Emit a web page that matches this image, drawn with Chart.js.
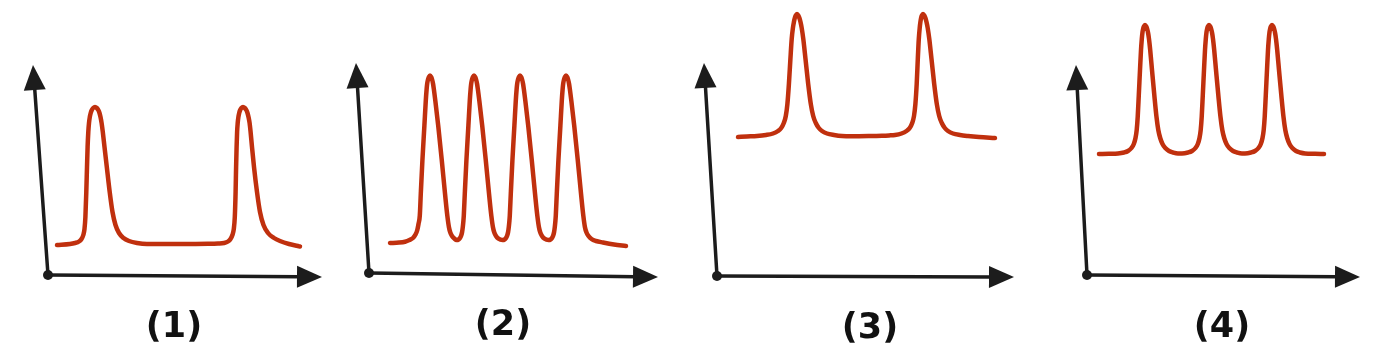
<!DOCTYPE html>
<html>
<head>
<meta charset="utf-8">
<script src="https://cdn.jsdelivr.net/npm/chart.js@4.4.1/dist/chart.umd.min.js"></script>
<style>
  html, body { margin: 0; padding: 0; background: #fff; }
  #wrap { position: relative; width: 1385px; height: 360px; overflow: hidden; }
  .panel { position: absolute; top: 0; height: 360px; }
</style>
</head>
<body>
<div id="wrap">
  <div class="panel" style="left:0px;width:340px"><canvas id="c1"></canvas></div>
  <div class="panel" style="left:340px;width:340px"><canvas id="c2"></canvas></div>
  <div class="panel" style="left:680px;width:360px"><canvas id="c3"></canvas></div>
  <div class="panel" style="left:1040px;width:345px"><canvas id="c4"></canvas></div>
</div>
<script>
const panelLabels = ['(1)', '(2)', '(3)', '(4)'];

// (1) two separated peaks, low baseline
const curve1X = [9, 22, 27, 31, 33.5, 35.3, 36.5, 37.4, 38.3, 39, 39.6, 40.3, 41, 41.8, 42.7, 43.8, 45.2, 47,
  48.8, 50.3, 51.5, 52.5, 53.6, 54.8, 56.5, 58.8, 61.7, 64.5, 67.5, 71, 75.5, 81, 89, 99,
  132, 160, 170, 176, 180, 182.5, 184.4, 185.8, 186.8, 187.6, 188.1, 188.6, 189.1, 189.7, 190.4, 191.2, 192.2, 193.4, 195,
  196.8, 198.3, 199.5, 200.5, 201.6, 202.6, 204, 206, 209, 212, 215.5, 220, 226, 232, 241, 250, 252];
const curve1Y = [30, 31, 32, 33.5, 36, 40, 46, 58, 83, 108, 128, 143, 152, 158, 162, 165, 167, 168,
  167, 165, 162, 158, 152, 143, 128, 108, 83, 63, 50, 42, 37, 34, 32, 31,
  31, 31.2, 31.5, 32, 33.5, 36, 40, 46, 58, 83, 108, 128, 143, 152, 158, 162, 165, 167, 168,
  167, 165, 162, 158, 152, 143, 128, 108, 83, 63, 50, 42, 37, 34, 31, 29, 28.5];

// (2) four close peaks, low baseline
const curve2X = [21, 30, 36, 40.5, 44, 46.5, 48.3, 49.5,
  50.8, 51.8, 53.4, 55.4, 56.8, 57.6, 58.2, 59, 59.9, 61, 62.2, 63.1, 64, 64.9, 66.3, 69.2, 72.8, 76, 78.3, 80,
  81.3, 83, 85.5, 87.5, 89.5, 91, 92.2, 93.1, 93.8, 94.4,
  94.8, 95.8, 97.4, 99.4, 100.8, 101.6, 102.2, 103, 103.9, 105, 106.2, 107.1, 108, 108.9, 110.3, 113.2, 116.8, 120, 122.3, 124,
  125.3, 127, 129.5, 133.5, 135.5, 137, 138.2, 139.1, 139.8, 140.4,
  140.8, 141.8, 143.4, 145.4, 146.8, 147.6, 148.2, 149, 149.9, 151, 152.2, 153.1, 154, 154.9, 156.3, 159.2, 162.8, 166, 168.3, 170,
  171.3, 173, 175.5, 179.5, 181.5, 183, 184.2, 185.1, 185.8, 186.4,
  186.8, 187.8, 189.4, 191.4, 192.8, 193.6, 194.2, 195, 195.9, 197, 198.2, 199.1, 200, 200.9, 202.3, 205.2, 208.8, 212, 214.3, 216,
  217.5, 219.5, 222.5, 227, 234, 245, 257];
const curve2Y = [30, 30.4, 31.3, 33, 35, 38.5, 43, 49,
  57.5, 79.5, 112.5, 147.5, 172.5, 183.5, 189.5, 193.5, 196, 197.5, 196, 193.5, 189.5, 183.5, 172.5, 147.5, 112.5, 79.5, 57.5, 45.5,
  40.5, 37, 34.3, 33, 33.5, 35, 37.5, 41, 46, 52,
  57.5, 79.5, 112.5, 147.5, 172.5, 183.5, 189.5, 193.5, 196, 197.5, 196, 193.5, 189.5, 183.5, 172.5, 147.5, 112.5, 79.5, 57.5, 45.5,
  40.5, 37, 34.3, 33, 33.5, 35, 37.5, 41, 46, 52,
  57.5, 79.5, 112.5, 147.5, 172.5, 183.5, 189.5, 193.5, 196, 197.5, 196, 193.5, 189.5, 183.5, 172.5, 147.5, 112.5, 79.5, 57.5, 45.5,
  40.5, 37, 34.3, 33, 33.5, 35, 37.5, 41, 46, 52,
  57.5, 79.5, 112.5, 147.5, 172.5, 183.5, 189.5, 193.5, 196, 197.5, 196, 193.5, 189.5, 183.5, 172.5, 147.5, 112.5, 79.5, 57.5, 45.5,
  40.5, 37, 34, 32, 30.5, 28.5, 27];

// (3) two separated peaks, high baseline
const curve3X = [21, 30, 40, 49, 56, 61, 64.2, 66.8, 68.8, 70.4, 71.9, 73.4, 74.7, 75.9, 76.9, 77.8, 78.7, 80,
  81.4, 82.4, 83.5, 84.7, 86.3, 88.5, 91.2, 93.8, 96.2, 98.8, 101.8, 105, 110, 117, 125, 135,
  152, 165, 172, 178, 184.5, 189.5, 192.7, 195.2, 197, 198.4, 199.7, 200.8, 201.8, 202.7, 203.4, 204.1, 204.9, 206,
  207.4, 208.4, 209.5, 210.7, 212.3, 214.5, 217.2, 219.8, 222.2, 224.8, 227.8, 231, 236, 243, 251, 262, 278];
const curve3Y = [139, 139.5, 140, 141, 142.5, 145, 148, 153, 160, 172, 192, 217, 237, 248, 254, 258, 260.5, 262,
  260.5, 258, 254, 248, 237, 217, 192, 172, 160, 153, 148, 145, 142.5, 141, 140, 139.8,
  140, 140.3, 140.6, 141, 142.5, 145, 148, 153, 160, 172, 192, 217, 237, 248, 254, 258, 260.5, 262,
  260.5, 258, 254, 248, 237, 217, 192, 172, 160, 153, 148, 145, 142.5, 141, 140, 139, 138];

// (4) three close peaks, high baseline
const curve4X = [12, 22, 31, 37, 41, 44.5, 46.8, 48.5, 49.7, 50.7, 51.8, 53, 54, 54.8, 55.4, 56.1, 56.9, 58,
  59.3, 60.2, 61.1, 62, 63.2, 65, 67.3, 69.5, 71.3, 73.2, 75.5, 78.3, 82, 86, 91,
  95, 101, 105, 108.5, 110.8, 112.5, 113.7, 114.7, 115.8, 117, 118, 118.8, 119.4, 120.1, 120.9, 122,
  123.3, 124.2, 125.1, 126, 127.2, 129, 131.3, 133.5, 135.3, 137.2, 139.5, 142.3, 146, 150, 155,
  158, 164, 168, 171.5, 173.8, 175.5, 176.7, 177.7, 178.8, 180, 181, 181.8, 182.4, 183.1, 183.9, 185,
  186.3, 187.2, 188.1, 189, 190.2, 192, 194.3, 196.5, 198.3, 200.2, 202.5, 205.3, 209, 213, 218, 228, 237];
const curve4Y = [121, 121.2, 121.5, 122.5, 124, 127, 131, 137, 145, 158, 180, 205, 225, 236, 242, 246, 248.5, 250,
  248.5, 246, 242, 236, 225, 205, 180, 158, 145, 137, 131, 127, 124, 122.5, 121.5,
  121.5, 122.5, 124, 127, 131, 137, 145, 158, 180, 205, 225, 236, 242, 246, 248.5, 250,
  248.5, 246, 242, 236, 225, 205, 180, 158, 145, 137, 131, 127, 124, 122.5, 121.5,
  121.5, 122.5, 124, 127, 131, 137, 145, 158, 180, 205, 225, 236, 242, 246, 248.5, 250,
  248.5, 246, 242, 236, 225, 205, 180, 158, 145, 137, 131, 127, 124, 122.5, 121.5, 121.2, 121];

const curvesX = [curve1X, curve2X, curve3X, curve4X];
const curvesY = [curve1Y, curve2Y, curve3Y, curve4Y];

// layout of each sketch: where its origin sits and how long its arrows are
const panels = [
  { id: 'c1', left: 0,    width: 340, ox: 48,   oy: 275, xLen: 274, xTipY: -2, yTipX: -15, yLen: 210, labelX: 126 },
  { id: 'c2', left: 340,  width: 340, ox: 369,  oy: 273, xLen: 289, xTipY: -4, yTipX: -13, yLen: 210, labelX: 134 },
  { id: 'c3', left: 680,  width: 360, ox: 717,  oy: 276, xLen: 297, xTipY: -1, yTipX: -13, yLen: 213, labelX: 153 },
  { id: 'c4', left: 1040, width: 345, ox: 1087, oy: 275, xLen: 273, xTipY: -2, yTipX: -11, yLen: 210, labelX: 135 }
];

const RED = '#c0300e';
const INK = '#1c1c1c';

function drawArrow(ctx, x0, y0, x1, y1) {
  const dx = x1 - x0, dy = y1 - y0;
  const len = Math.hypot(dx, dy);
  const ux = dx / len, uy = dy / len;
  const headLen = 25, headHalf = 11;
  const bx = x1 - ux * headLen, by = y1 - uy * headLen;
  ctx.beginPath();
  ctx.moveTo(x0, y0);
  ctx.lineTo(bx + ux * 2, by + uy * 2);
  ctx.stroke();
  ctx.beginPath();
  ctx.moveTo(x1, y1);
  ctx.lineTo(bx - uy * headHalf, by + ux * headHalf);
  ctx.lineTo(bx + uy * headHalf, by - ux * headHalf);
  ctx.closePath();
  ctx.fill();
}

const sketchAxes = {
  id: 'sketchAxes',
  beforeDatasetsDraw(chart, args, opts) {
    const { ctx, scales: { x, y } } = chart;
    const p = opts.panel;
    const ox = x.getPixelForValue(0), oy = y.getPixelForValue(0);
    ctx.save();
    ctx.strokeStyle = INK;
    ctx.fillStyle = INK;
    ctx.lineWidth = 3.5;
    ctx.lineCap = 'round';
    drawArrow(ctx, ox, oy, x.getPixelForValue(p.yTipX), y.getPixelForValue(p.yLen));
    drawArrow(ctx, ox, oy, x.getPixelForValue(p.xLen), y.getPixelForValue(p.xTipY));
    ctx.beginPath();
    ctx.arc(ox, oy, 5, 0, Math.PI * 2);
    ctx.fill();
    ctx.font = 'bold 35px "DejaVu Sans"';
    ctx.textAlign = 'center';
    ctx.textBaseline = 'middle';
    ctx.fillStyle = '#111';
    ctx.fillText(opts.label, x.getPixelForValue(p.labelX), y.getPixelForValue(-53));
    ctx.restore();
  }
};

panels.forEach((p, i) => {
  const padLeft = p.ox - p.left;
  const ctx = document.getElementById(p.id).getContext('2d');
  new Chart(ctx, {
    type: 'line',
    data: {
      datasets: [{
        data: curvesX[i].map((xv, k) => ({ x: xv, y: curvesY[i][k] })),
        borderColor: RED,
        borderWidth: 4.5,
        borderCapStyle: 'round',
        borderJoinStyle: 'round',
        cubicInterpolationMode: 'monotone',
        pointRadius: 0,
        fill: false,
        clip: false
      }]
    },
    options: {
      responsive: true,
      maintainAspectRatio: false,
      animation: false,
      events: [],
      layout: {
        padding: { left: padLeft, right: p.width - padLeft - p.xLen, top: p.oy - p.yLen, bottom: 360 - p.oy }
      },
      scales: {
        x: { type: 'linear', min: 0, max: p.xLen, display: false },
        y: { type: 'linear', min: 0, max: p.yLen, display: false }
      },
      plugins: {
        legend: { display: false },
        tooltip: { enabled: false },
        sketchAxes: { panel: p, label: panelLabels[i] }
      }
    },
    plugins: [sketchAxes]
  });
});
</script>
</body>
</html>
